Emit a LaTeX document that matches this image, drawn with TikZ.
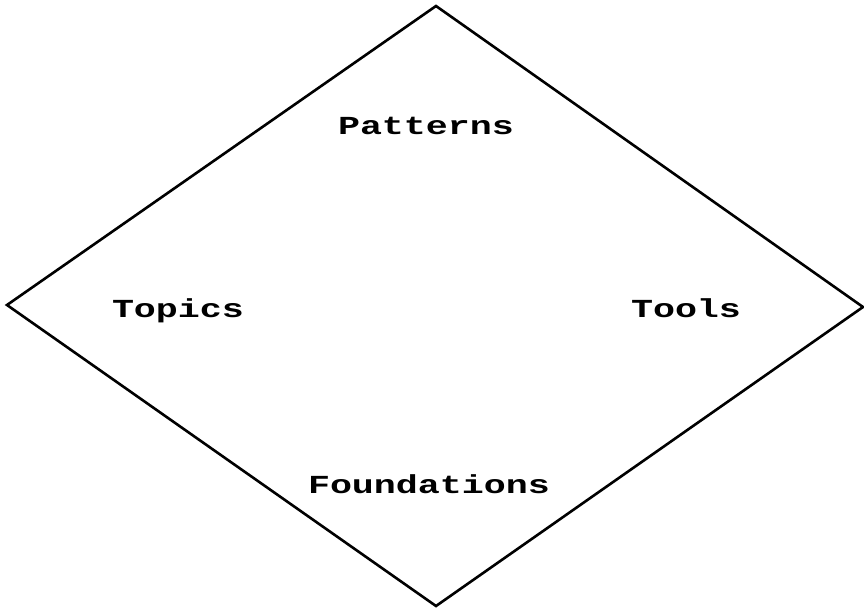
\documentclass[tikz,border=0pt]{standalone}
\usepackage{fontspec}
\setmonofont{Liberation Mono}
\begin{document}
\begin{tikzpicture}[x=1pt,y=-1pt,
  lbl/.style={anchor=base,inner sep=0pt,font=\ttfamily\bfseries\fontsize{26}{30}\selectfont}]
\useasboundingbox (0,0) rectangle (864,611);
\coordinate (T) at (436,6);
\coordinate (L) at (7,305);
\coordinate (B) at (436,606);
\coordinate (R) at (863,307);
\draw[line width=2.6pt,line join=miter] (T) -- (R) -- (B) -- (L) -- cycle;
\node[lbl] (pat) at (426,134) {\scalebox{1.41}[1]{Patterns}};
\node[lbl] (top) at (178,317) {\scalebox{1.41}[1]{Topics}};
\node[lbl] (too) at (686,317) {\scalebox{1.41}[1]{Tools}};
\node[lbl] (fou) at (429,493) {\scalebox{1.41}[1]{Foundations}};
\end{tikzpicture}
\end{document}
